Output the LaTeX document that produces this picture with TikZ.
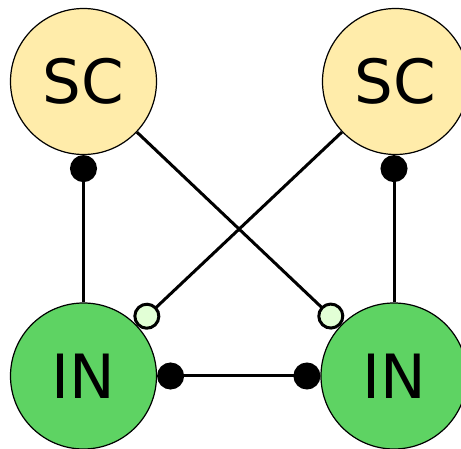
\documentclass[tikz,border=0pt]{standalone}
\usepackage{fontspec}
\setmainfont{DejaVu Sans}
\usetikzlibrary{arrows.meta}
\definecolor{scfill}{RGB}{255,236,170}
\definecolor{infill}{RGB}{94,211,99}
\definecolor{openfill}{RGB}{226,255,214}
\begin{document}
\begin{tikzpicture}[x=1pt,y=-1pt,
  cell/.style={circle, draw=black, line width=1.2pt, minimum size=146pt,
    inner sep=0pt, font=\fontsize{61}{61}\selectfont},
  sc/.style={cell, fill=scfill},
  inn/.style={cell, fill=infill},
  link/.style={line width=3pt},
  dotend/.style={-{Circle[length=27pt,width=27pt]}},
  dotboth/.style={{Circle[length=27pt,width=27pt]}-{Circle[length=27pt,width=27pt]}},
  openend/.style={-{Circle[open,fill=openfill,length=27pt,width=27pt]}}
]
\useasboundingbox (0,0) rectangle (461,449);

% cells
\node[sc]  (scL) at (83.5,81.5) {SC};
\node[sc]  (scR) at (395.5,81.5) {SC};
\node[inn] (inL) at (83.5,376) {IN};
\node[inn] (inR) at (394,376) {IN};

% connections
\draw[link, dotend] (inL) -- (scL);
\draw[link, dotend] (inR.north) -- (inR |- scR.south);
\draw[link, openend] (scL) -- (inR);
\draw[link, openend] (scR) -- (inL);
\draw[link, dotboth] (inL) -- (inR);
\end{tikzpicture}
\end{document}
